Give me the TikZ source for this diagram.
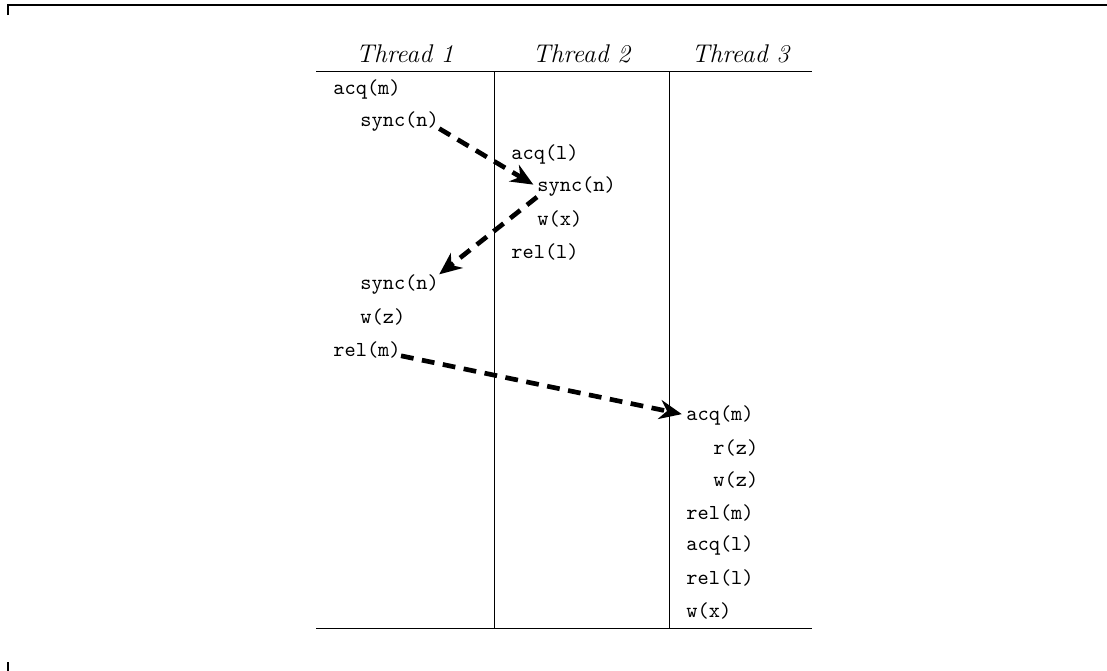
\documentclass[tikz,border=0pt]{standalone}
\usepackage{tikz}
\usetikzlibrary{arrows.meta}

\begin{document}
\begin{tikzpicture}[
      x=0.469pt, y=-0.469pt,
      op/.style={anchor=west, inner xsep=0pt, inner ysep=0pt, font=\ttfamily},
      thread/.style={anchor=base, font=\large\itshape},
      syncarrow/.style={-{Stealth[length=10.5pt, width=9pt]}, line width=2.2pt,
        dash pattern=on 6pt off 4pt, shorten >=2pt},
      frame/.style={line width=1.1pt}
    ]
    \useasboundingbox (0,0) rectangle (1107,671);

    % --- frame ---
    \draw[frame] (8,15) -- (8,5) -- (1107,5);
    \draw[frame] (8,662) -- (8,671);

    % --- table rules ---
    \draw (316,71) -- (812,71);
    \draw (316,628) -- (812,628);
    \draw (494,71) -- (494,628);
    \draw (669,71) -- (669,628);

    % --- thread headers ---
    \foreach \c/\x in {1/405, 2/581.5, 3/740.5} {
      \node[thread] (th\c) at (\x,62) {Thread \c};
    }

    % --- operations (row/x/text) ---
    \foreach \r/\x/\t in {1/333/acq(m), 2/360/sync(n),
        3/511/acq(l), 4/537/sync(n), 5/537/w(x), 6/511/rel(l),
        7/360/sync(n), 8/360/w(z), 9/333/rel(m),
        11/686/acq(m), 12/713/r(z), 13/713/w(z), 14/686/rel(m),
        15/686/acq(l), 16/686/rel(l), 17/686/w(x)} {
      \node[op] (e\r) at ({\x}, {89+32.6*(\r-1)}) {\t};
    }

    % --- synchronisation edges ---
    \draw[syncarrow] (e2.-10) -- (e4.west);
    \draw[syncarrow, shorten >=0pt] (e4.south west) -- (e7.north east);
    \draw[syncarrow] (e9.-10) -- (e11.west);

  \end{tikzpicture}
\end{document}
